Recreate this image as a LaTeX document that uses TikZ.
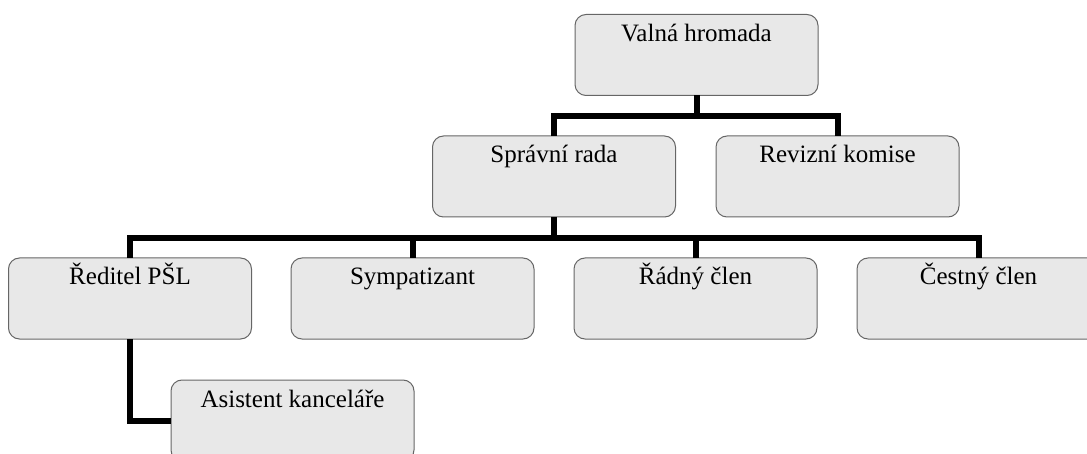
\documentclass[tikz,border=0pt]{standalone}
\usepackage{fontspec}
\setmainfont{Liberation Serif}
\begin{document}
\begin{tikzpicture}[x=1pt,y=-1pt,
  box/.style={draw=black!60, line width=1pt, fill=boxgray, rounded corners=11pt,
    minimum width=243pt, minimum height=81pt, inner sep=0pt, outer sep=0pt},
  lbl/.style={anchor=base, font=\fontsize{25}{30}\selectfont, text=black, inner sep=0pt},
  conn/.style={line width=6pt, black, line join=miter}]
\definecolor{boxgray}{HTML}{E8E8E8}
\useasboundingbox (0,0) rectangle (1087,454);
\clip (0,0) rectangle (1087,454);
\node[box] (v) at (696.5,55) {};
\node[box] (s) at (554,176.5) {};
\node[box] (k) at (837.5,176.5) {};
\node[box] (r) at (130,298.5) {};
\node[box] (y) at (412.5,298.5) {};
\node[box] (d) at (695.5,298.5) {};
\node[box] (c) at (978.5,298.5) {};
\node[box] (a) at (292.5,420.5) {};
\foreach \n/\t in {v/Valná hromada, s/Správní rada, k/Revizní komise, r/Ředitel PŠL, y/Sympatizant, d/Řádný člen, c/Čestný člen, a/Asistent kanceláře}
  \node[lbl] (\n-t) at ([yshift=-27pt]\n.north) {\t};
\coordinate (b1) at ([yshift=-21pt]v.south);
\coordinate (b2) at ([yshift=-21pt]s.south);
\draw[conn] (v.south) -- (b1);
\draw[conn] (s.north) |- (b1) -| (k.north);
\draw[conn] (s.south) -- (b2);
\draw[conn] (r.north) |- (b2) -| (c.north);
\draw[conn] (y.north) |- (b2);
\draw[conn] (d.north) |- (b2);
\draw[conn] (r.south) |- (a.west);
\end{tikzpicture}
\end{document}
